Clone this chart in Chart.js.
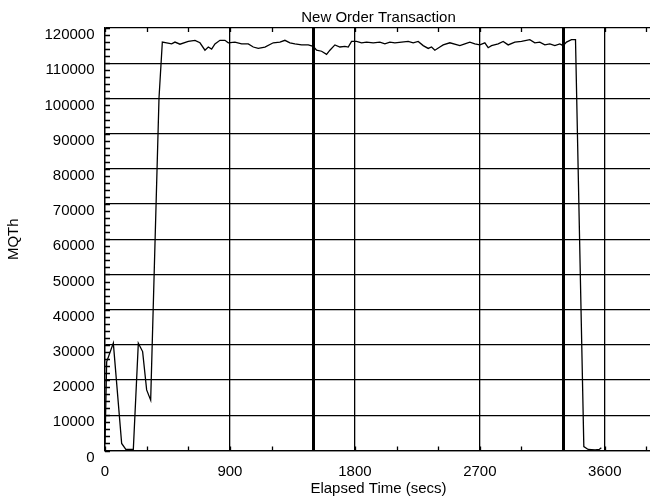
<!DOCTYPE html>
<html>
  <head>
    <title>New Order Transaction</title>
    <meta charset="utf-8" />
    <style>
      body { margin: 0; overflow: hidden; background: #fff; }
    </style>
  </head>

  <body>
    <canvas id="myChart" width="652" height="502"></canvas>
    <script src="https://cdn.jsdelivr.net/npm/chart.js@4.4.1/dist/chart.umd.min.js"></script>
    <script>
      // elapsed time (secs) and MQTh
      const elapsed = [0, 12, 60, 120, 150, 204, 240, 271, 300, 329, 389, 413,
        444, 480, 504, 540, 600, 648, 684, 720, 744, 768, 792, 828, 864, 888,
        936, 984, 1032, 1068, 1104, 1152, 1212, 1260, 1296, 1332, 1368, 1416,
        1464, 1500, 1524, 1560, 1596, 1620, 1656, 1692, 1728, 1752, 1776, 1812,
        1848, 1884, 1932, 1980, 2016, 2052, 2088, 2136, 2184, 2220, 2256, 2292,
        2328, 2352, 2376, 2412, 2436, 2484, 2556, 2592, 2628, 2664, 2700, 2736,
        2760, 2784, 2832, 2868, 2904, 2952, 3000, 3060, 3096, 3132, 3168, 3204,
        3240, 3276, 3300, 3324, 3360, 3389, 3449, 3480, 3530, 3560, 3575];
      const mqth = [2000, 25200, 30500, 2000, 300, 300, 30500, 28100, 17200, 14300, 100100, 116000,
        115800, 115500, 116000, 115400, 116200, 116500, 115800, 113700, 114600, 114000, 115500, 116500, 116500, 115800,
        116000, 115500, 115500, 114600, 114200, 114600, 115800, 116000, 116500, 115800, 115500, 115200,
        115200, 114800, 113700, 113400, 112500, 113700, 115200, 114600, 114800, 114600, 116200, 116200,
        115800, 116000, 115800, 116000, 115500, 116000, 115800, 116000, 116200, 115800, 116200, 115000,
        114200, 114600, 113700, 114600, 115200, 115800, 115000, 115500, 116000, 115500, 115200, 115800,
        114400, 115000, 115500, 116200, 115200, 116000, 116200, 116700, 115800, 116000, 115200, 115500,
        115000, 115500, 115000, 116000, 116700, 116700, 1100, 300, 200, 300, 800];

      // tick marks (every 300 s / 2000) and the labelled ones
      const xTicks = [0, 300, 600, 900, 1200, 1500, 1800, 2100, 2400, 2700, 3000, 3300, 3600, 3900];
      const xTickLabels = [0, 900, 1800, 2700, 3600];
      const yTicks = [];
      for (let v = 0; v <= 120000; v += 2000) yTicks.push(v);
      const yTickLabels = [0, 10000, 20000, 30000, 40000, 50000, 60000, 70000,
        80000, 90000, 100000, 110000, 120000];
      const markers = [1500, 3300];

      const font = { family: "'Liberation Sans', Arial, sans-serif", size: 15 };

      // small inside tick marks on the plot frame
      const minorTicks = {
        id: "minorTicks",
        afterDraw(chart) {
          const { ctx, chartArea: a, scales: { x, y } } = chart;
          ctx.save();
          ctx.strokeStyle = "#000";
          ctx.lineWidth = 1.3;
          ctx.beginPath();
          xTicks.forEach(v => {
            const px = Math.round(x.getPixelForValue(v)) + 0.5;
            ctx.moveTo(px, a.bottom); ctx.lineTo(px, a.bottom - 4);
            ctx.moveTo(px, a.top); ctx.lineTo(px, a.top + 4);
          });
          yTicks.forEach(v => {
            const py = Math.round(y.getPixelForValue(v)) + 0.5;
            ctx.moveTo(a.left, py); ctx.lineTo(a.left + 5, py);
          });
          ctx.stroke();
          ctx.restore();
        }
      };

      const ctx = document.getElementById("myChart").getContext("2d");
      const chart = new Chart(ctx, {
        type: "line",
        data: {
          datasets: [
            {
              data: elapsed.map((t, i) => ({ x: t, y: mqth[i] })),
              borderColor: "#000",
              borderWidth: 1.3,
              pointRadius: 0,
              fill: false,
              tension: 0
            }
          ]
        },
        options: {
          responsive: false,
          animation: false,
          layout: { padding: 0 },
          plugins: {
            legend: { display: false },
            tooltip: { enabled: false },
            title: {
              display: true,
              text: "New Order Transaction",
              fullSize: false,
              color: "#000",
              font: { ...font, weight: "normal" },
              padding: { top: 8.7, bottom: 1.3 }
            }
          },
          scales: {
            x: {
              type: "linear",
              min: 0,
              max: 3940,
              afterBuildTicks: s => { s.ticks = xTicks.map(v => ({ value: v })); },
              afterFit: s => { s.height = 51.5; s.paddingLeft = 0; s.paddingRight = 0; },
              border: { display: true, color: "#000", width: 1.3 },
              grid: {
                drawTicks: false,
                color: c => (markers.includes(c.tick.value) || xTickLabels.includes(c.tick.value)) ? "#000" : "rgba(0,0,0,0)",
                lineWidth: c => markers.includes(c.tick.value) ? 3 : 1.3
              },
              ticks: {
                autoSkip: false,
                maxRotation: 0,
                padding: 12,
                color: "#000",
                font,
                callback: v => xTickLabels.includes(v) ? String(v) : ""
              },
              title: {
                display: true,
                text: "Elapsed Time (secs)",
                color: "#000",
                font,
                padding: { top: 0, bottom: 4 }
              }
            },
            y: {
              min: 0,
              max: 120000,
              afterBuildTicks: s => { s.ticks = yTicks.map(v => ({ value: v })); },
              afterFit: s => { s.width = 105; },
              border: { display: true, color: "#000", width: 1.3 },
              grid: {
                drawTicks: false,
                color: c => yTickLabels.includes(c.tick.value) ? "#000" : "rgba(0,0,0,0)",
                lineWidth: 1.3
              },
              ticks: {
                autoSkip: false,
                padding: 10.5,
                labelOffset: 7,
                color: "#000",
                font,
                callback: v => yTickLabels.includes(v) ? String(v) : ""
              },
              title: {
                display: true,
                text: "MQTh",
                color: "#000",
                font,
                padding: { top: 5, bottom: 0 }
              }
            }
          }
        },
        plugins: [minorTicks]
      });
    </script>
  </body>
</html>
